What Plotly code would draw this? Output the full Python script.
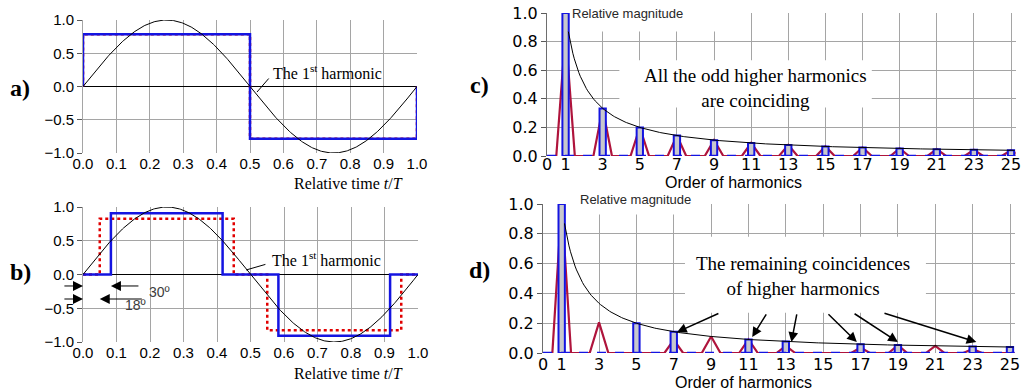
import numpy as np
import plotly.graph_objects as go

W, H = 1025, 392

# ---------------- data ----------------
# panel a: square wave (blue) and identical red dotted wave
a_t = [0, 0, 0.5, 0.5, 1.0, 1.0]
a_v = [0, 0.785, 0.785, -0.785, -0.785, 0]
# panel b: 30 deg quasi-square (blue) and 18 deg quasi-square (red dotted)
b_blue_t = [0, 0.0833, 0.0833, 0.4167, 0.4167, 0.5833, 0.5833, 0.9167, 0.9167, 1.0]
b_blue_v = [0, 0, 0.907, 0.907, 0, 0, -0.907, -0.907, 0, 0]
b_red_t = [0, 0.05, 0.05, 0.45, 0.45, 0.55, 0.55, 0.95, 0.95, 1.0]
b_red_v = [0, 0, 0.826, 0.826, 0, 0, -0.826, -0.826, 0, 0]
time_ticks = [0, 0.1, 0.2, 0.3, 0.4, 0.5, 0.6, 0.7, 0.8, 0.9, 1.0]
level_ticks = [-1.0, -0.5, 0.0, 0.5, 1.0]

# spectra
harmonics = [1, 3, 5, 7, 9, 11, 13, 15, 17, 19, 21, 23, 25]
c_blue = [1.0, 0.333, 0.2, 0.143, 0.111, 0.091, 0.077, 0.067, 0.059, 0.053, 0.048, 0.043, 0.04]
c_red = [0.866, 0.333, 0.2, 0.143, 0.111, 0.091, 0.077, 0.067, 0.059, 0.053, 0.048, 0.043, 0.04]
d_blue = [1.0, 0, 0.2, 0.143, 0, 0.091, 0.077, 0, 0.059, 0.053, 0, 0.043, 0.04]
d_red = [1.0, 0.206, 0, 0.088, 0.111, 0.091, 0.048, 0, 0.036, 0.053, 0.048, 0.027, 0]
harm_ticks = [0, 1, 3, 5, 7, 9, 11, 13, 15, 17, 19, 21, 23, 25]
mag_ticks = [0.0, 0.2, 0.4, 0.6, 0.8, 1.0]

BLUE = "rgb(20,20,225)"
RED_DOT = "rgb(225,0,0)"
RED = "rgb(175,20,60)"
GRID = "rgb(165,165,165)"
SERIF = "Liberation Serif"
SANS = "Liberation Sans"


def xd(px):
    return px / W


def yd(py):
    return 1 - py / H


fig = go.Figure()

# ---------- panel a ----------
t = np.linspace(0, 1, 400)
sine = np.sin(2 * np.pi * t)
fig.add_trace(go.Scatter(x=a_t, y=a_v, mode="lines", line=dict(color=RED_DOT, width=2.5, dash="dot"),
                         xaxis="x", yaxis="y"))
fig.add_trace(go.Scatter(x=a_t, y=a_v, mode="lines", line=dict(color=BLUE, width=2.5),
                         xaxis="x", yaxis="y"))
fig.add_trace(go.Scatter(x=t, y=sine, mode="lines", line=dict(color="black", width=1),
                         xaxis="x", yaxis="y"))

# ---------- panel b ----------
fig.add_trace(go.Scatter(x=b_red_t, y=b_red_v, mode="lines", line=dict(color=RED_DOT, width=2.5, dash="dot"),
                         xaxis="x2", yaxis="y2"))
fig.add_trace(go.Scatter(x=b_blue_t, y=b_blue_v, mode="lines", line=dict(color=BLUE, width=2.5),
                         xaxis="x2", yaxis="y2"))
fig.add_trace(go.Scatter(x=t, y=sine, mode="lines", line=dict(color="black", width=1),
                         xaxis="x2", yaxis="y2"))


# ---------- spectra helpers ----------
def red_line(vals, xmax=25.25):
    xs, ys = [0.0], [0.0]
    for n, a in zip(harmonics, vals):
        xs += [n - 0.5, n, n + 0.5]
        ys += [0, a, 0]
    xs.append(xmax)
    ys.append(0)
    return xs, ys


def bar_outline(vals, w=0.17):
    xs, ys = [], []
    for n, a in zip(harmonics, vals):
        if a <= 0:
            continue
        xs += [n - w, n - w, n + w, n + w, n - w, None]
        ys += [0, a, a, 0, 0, None]
    return xs, ys


env_x = np.linspace(1.15, 25.2, 300)
env_y = 1.0 / env_x

for (blue, red, xa, ya) in [(c_blue, c_red, "x3", "y3"), (d_blue, d_red, "x4", "y4")]:
    rx, ry = red_line(red)
    fig.add_trace(go.Scatter(x=rx, y=ry, mode="lines", line=dict(color=RED, width=2.2),
                             xaxis=xa, yaxis=ya))
    bx, by = bar_outline(blue)
    fig.add_trace(go.Scatter(x=bx, y=by, mode="lines", fill="toself", fillcolor="rgb(200,200,205)",
                             line=dict(color=BLUE, width=2), xaxis=xa, yaxis=ya))
    fig.add_trace(go.Scatter(x=[0, 25.25], y=[0, 0], mode="lines",
                             line=dict(color=BLUE, width=2.5, dash="dash"), xaxis=xa, yaxis=ya))
    fig.add_trace(go.Scatter(x=env_x, y=env_y, mode="lines", line=dict(color="black", width=1),
                             xaxis=xa, yaxis=ya))

# ---------- axes ----------
tick_font = dict(family=SANS, size=15, color="black")
spec_font = dict(family="DejaVu Sans", size=16, color="black")


def time_axes(dom_x, dom_y):
    xax = dict(domain=dom_x, range=[0, 1], tickvals=time_ticks, tickformat=".1f", showgrid=True,
               gridcolor=GRID, gridwidth=1, zeroline=False, showline=False, ticks="", tickfont=tick_font,
               fixedrange=True, automargin=False)
    yax = dict(domain=dom_y, range=[-1, 1], tickvals=level_ticks, tickformat=".1f", showgrid=True,
               gridcolor=GRID, gridwidth=1, zeroline=True, zerolinecolor="black", zerolinewidth=1,
               showline=True, linecolor=GRID, ticks="outside", ticklen=5, tickcolor="rgb(90,90,90)",
               tickfont=tick_font, fixedrange=True, automargin=False)
    return xax, yax


def spec_axes(dom_x, dom_y, standoff):
    xax = dict(domain=dom_x, range=[0, 25.25], tickvals=harm_ticks, ticktext=[str(v) for v in harm_ticks],
               showgrid=True, gridcolor=GRID, gridwidth=1, zeroline=False, showline=False, ticks="",
               tickfont=spec_font, fixedrange=True, automargin=False, ticklabelstandoff=standoff)
    yax = dict(domain=dom_y, range=[0, 1.0], tickvals=mag_ticks, tickformat=".1f", showgrid=True,
               gridcolor=GRID, gridwidth=1, zeroline=False, showline=True, linecolor="rgb(110,110,110)",
               ticks="outside", ticklen=5, tickcolor="rgb(90,90,90)", tickfont=spec_font, fixedrange=True,
               automargin=False)
    return xax, yax


xa1, ya1 = time_axes([xd(83), xd(417)], [yd(153), yd(20)])
xa2, ya2 = time_axes([xd(83), xd(418)], [yd(342), yd(207)])
xa3, ya3 = spec_axes([xd(547), xd(547 + 25.25 * 18.56)], [yd(156), yd(13)], -3)
xa4, ya4 = spec_axes([xd(543), xd(543 + 25.25 * 18.68)], [yd(353), yd(204)], 0)
ya1["anchor"] = "x"; xa1["anchor"] = "y"
xa2["anchor"] = "y2"; ya2["anchor"] = "x2"
xa3["anchor"] = "y3"; ya3["anchor"] = "x3"
xa4["anchor"] = "y4"; ya4["anchor"] = "x4"

# ---------- white boxes hiding grid behind labels ----------
shapes = [
    dict(type="rect", xref="x3", yref="y3", x0=0.35, x1=9.3, y0=0.87, y1=1.02, fillcolor="white",
         line=dict(width=0), layer="between"),
    dict(type="rect", xref="x3", yref="y3", x0=3.9, x1=17.5, y0=0.34, y1=0.67, fillcolor="white",
         line=dict(width=0), layer="between"),
    dict(type="rect", xref="x4", yref="y4", x0=0.35, x1=7.5, y0=0.93, y1=1.02, fillcolor="white",
         line=dict(width=0), layer="between"),
    dict(type="rect", xref="x4", yref="y4", x0=7.6, x1=20.5, y0=0.27, y1=0.78, fillcolor="white",
         line=dict(width=0), layer="between"),
]

ann = []
# panel letters
for lbl, px, py in [("a)", 20, 88), ("b)", 20, 272), ("c)", 479, 85), ("d)", 479, 270)]:
    ann.append(dict(text="<b>" + lbl + "</b>", x=xd(px), y=yd(py), xref="paper", yref="paper", showarrow=False,
                    font=dict(family=SERIF, size=24, color="black"), xanchor="center", yanchor="middle"))

# axis titles
for px, py in [(405, 183), (405, 373)]:
    ann.append(dict(text="Relative time <i>t</i>/<i>T</i>", x=xd(px), y=yd(py), xref="paper", yref="paper",
                    showarrow=False, xanchor="right", yanchor="middle",
                    font=dict(family=SERIF, size=16, color="black")))
for px, py in [(733, 182), (743, 382)]:
    ann.append(dict(text="Order of harmonics", x=xd(px), y=yd(py), xref="paper", yref="paper",
                    showarrow=False, xanchor="center", yanchor="middle",
                    font=dict(family=SANS, size=16, color="black")))

# "The 1st harmonic" labels with leader lines
ann.append(dict(text="", x=0.521, y=-0.083, ax=0.56, ay=0.143, xref="x", yref="y", axref="x", ayref="y",
                showarrow=True, arrowhead=0, arrowwidth=1, arrowcolor="black"))
ann.append(dict(text="The 1<sup>st</sup> harmonic", x=0.563, y=0.22, xref="x", yref="y", showarrow=False,
                xanchor="left", yanchor="middle", font=dict(family=SERIF, size=16, color="black")))
ann.append(dict(text="", x=0.487, y=0.067, ax=0.549, ay=0.156, xref="x2", yref="y2", axref="x2", ayref="y2",
                showarrow=True, arrowhead=0, arrowwidth=1, arrowcolor="black"))
ann.append(dict(text="The 1<sup>st</sup> harmonic", x=0.557, y=0.23, xref="x2", yref="y2", showarrow=False,
                xanchor="left", yanchor="middle", font=dict(family=SERIF, size=16, color="black")))

# dimension arrows in b
for tip, tail, yv in [(0.0, -0.06, -0.17), (0.0833, 0.17, -0.17), (0.0, -0.06, -0.363), (0.05, 0.18, -0.363)]:
    ann.append(dict(text="", x=tip, y=yv, ax=tail, ay=yv, xref="x2", yref="y2", axref="x2", ayref="y2",
                    showarrow=True, arrowhead=2, arrowsize=2, arrowwidth=1, arrowcolor="black"))
ann.append(dict(text="30º", x=0.192, y=-0.26, xref="x2", yref="y2", showarrow=False, xanchor="left",
                yanchor="middle", font=dict(family=SANS, size=14, color="rgb(60,60,60)")))
ann.append(dict(text="18º", x=0.118, y=-0.45, xref="x2", yref="y2", showarrow=False, xanchor="left",
                yanchor="middle", font=dict(family=SANS, size=14, color="rgb(60,60,60)")))

# spectrum labels
ann.append(dict(text="Relative magnitude", x=xd(570), y=yd(14), xref="paper", yref="paper", showarrow=False,
                xanchor="left", yanchor="middle", font=dict(family=SANS, size=13, color="rgb(40,40,40)")))
ann.append(dict(text="Relative magnitude", x=xd(578), y=yd(199), xref="paper", yref="paper", showarrow=False,
                xanchor="left", yanchor="middle", font=dict(family=SANS, size=13, color="rgb(40,40,40)")))
ann.append(dict(text="All the odd higher harmonics<br>are coinciding", x=xd(755), y=yd(88), xref="paper",
                yref="paper", showarrow=False, xanchor="center", yanchor="middle",
                font=dict(family=SERIF, size=19, color="black")))
ann.append(dict(text="The remaining coincidences<br>of higher harmonics", x=xd(803), y=yd(276), xref="paper",
                yref="paper", showarrow=False, xanchor="center", yanchor="middle",
                font=dict(family=SERIF, size=19, color="black")))

# arrows in d
for (tx, ty, hx, hy) in [(9.47, 0.27, 7.17, 0.14), (12.0, 0.27, 11.2, 0.107), (13.6, 0.27, 13.3, 0.074),
                         (15.2, 0.27, 16.8, 0.074), (16.6, 0.27, 19.0, 0.074), (18.2, 0.27, 23.2, 0.074)]:
    ann.append(dict(text="", x=hx, y=hy, ax=tx, ay=ty, xref="x4", yref="y4", axref="x4", ayref="y4",
                    showarrow=True, arrowhead=2, arrowsize=1.3, arrowwidth=1.5, arrowcolor="black"))

fig.update_layout(
    width=W, height=H, margin=dict(l=0, r=0, t=0, b=0, pad=0, autoexpand=False), showlegend=False,
    paper_bgcolor="white", plot_bgcolor="white",
    xaxis=xa1, yaxis=ya1, xaxis2=xa2, yaxis2=ya2, xaxis3=xa3, yaxis3=ya3, xaxis4=xa4, yaxis4=ya4,
    shapes=shapes, annotations=ann,
)

fig.write_html("out.html", config={"displayModeBar": False, "staticPlot": True},
               post_script="document.body.style.margin='0px';document.body.style.overflow='hidden';")
